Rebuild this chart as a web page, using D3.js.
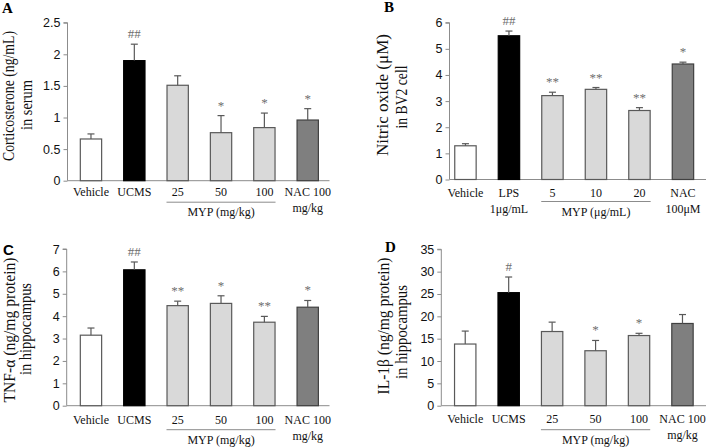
<!DOCTYPE html>
<html>
<head>
  <meta charset="utf-8">
  <title>MYP panels A-D</title>
  <script src="https://d3js.org/d3.v7.min.js"></script>
  <style>
    body { margin: 0; background: #fff; }
    svg { display: block; font-family: "Liberation Serif", "Times New Roman", serif; }
    .tick text { font-size: 12.5px; fill: #111; }
    .xlab { font-size: 12px; fill: #111; }
    .ytitle { fill: #111; }
    .mark { font-size: 13px; fill: #6e6e6e; }
  </style>
</head>
<body>
  <svg width="708" height="448"></svg>

  <script>
    // categories
    const catsA = ["Vehicle", "UCMS", "25", "50", "100", "NAC 100"];
    const catsB = ["Vehicle", "LPS", "5", "10", "20", "NAC"];
    const catsC = catsA;
    const catsD = catsA;
    const sub2A = ["", "", "", "", "", "mg/kg"];
    const sub2B = ["", "1μg/mL", "", "", "", "100μM"];

    // values (mean) and upper SEM
    const corticosterone = [0.66, 1.90, 1.51, 0.76, 0.84, 0.96];
    const corticoErr     = [0.08, 0.26, 0.15, 0.27, 0.23, 0.18];
    const nitricOxide    = [1.29, 5.50, 3.21, 3.45, 2.64, 4.42];
    const nitricErr      = [0.08, 0.18, 0.13, 0.07, 0.11, 0.07];
    const tnfAlpha       = [3.15, 6.07, 4.47, 4.57, 3.73, 4.40];
    const tnfErr         = [0.32, 0.35, 0.20, 0.34, 0.26, 0.30];
    const il1Beta        = [13.8, 25.3, 16.6, 12.3, 15.7, 18.4];
    const il1Err         = [2.9, 3.5, 2.1, 2.3, 0.5, 2.0];

    // significance marks
    const marksA = ["", "##", "", "*", "*", "*"];
    const marksB = ["", "##", "**", "**", "**", "*"];
    const marksC = ["", "##", "**", "*", "**", "*"];
    const marksD = ["", "#", "", "*", "*", ""];

    // y ticks
    const ticksA = [0, 0.5, 1, 1.5, 2, 2.5];
    const ticksB = [0, 1, 2, 3, 4, 5, 6];
    const ticksC = [0, 1, 2, 3, 4, 5, 6, 7];
    const ticksD = [0, 5, 10, 15, 20, 25, 30, 35];

    const fills   = ["#ffffff", "#000000", "#d9d9d9", "#d9d9d9", "#d9d9d9", "#7f7f7f"];
    const strokes = ["#595959", "#000000", "#595959", "#595959", "#595959", "#404040"];

    const svg = d3.select("svg");

    function drawPanel(p) {
      const g = svg.append("g");
      const x = d3.scaleBand().domain(p.cats).range([p.bandX0, p.bandX0 + 6 * p.step])
        .paddingInner(0.485).paddingOuter(0.2425);
      const y = d3.scaleLinear().domain([0, d3.max(p.ticks)]).range([p.y0, p.yTop]);
      const bw = x.bandwidth();

      // y axis
      const ax = g.append("g").attr("transform", `translate(${p.axisX},0)`)
        .call(d3.axisLeft(y).tickValues(p.ticks).tickSize(4).tickPadding(3).tickFormat(d => String(d)));
      ax.selectAll("path, line").attr("stroke", "#8c8c8c");
      ax.select(".domain").attr("d", `M-4,${y(d3.max(p.ticks))}H0V${p.y0}`);
      ax.selectAll(".tick text").attr("font-family", null).attr("font-size", null);

      // x axis baseline
      g.append("line").attr("x1", p.axisX).attr("x2", p.axisEnd)
        .attr("y1", p.y0).attr("y2", p.y0).attr("stroke", "#8c8c8c");

      // bars
      g.selectAll("rect.bar").data(p.vals).join("rect").attr("class", "bar")
        .attr("x", (d, i) => x(p.cats[i]) + 0.5)
        .attr("y", d => y(d))
        .attr("width", bw - 1)
        .attr("height", d => p.y0 - y(d))
        .attr("fill", (d, i) => fills[i])
        .attr("stroke", (d, i) => strokes[i])
        .attr("stroke-width", 1.2);

      // error bars (upper only)
      p.vals.forEach((v, i) => {
        const cx = x(p.cats[i]) + bw / 2;
        const top = y(v + p.errs[i]);
        g.append("line").attr("x1", cx).attr("x2", cx).attr("y1", y(v)).attr("y2", top)
          .attr("stroke", "#595959").attr("stroke-width", 1.2);
        g.append("line").attr("x1", cx - 3.5).attr("x2", cx + 3.5).attr("y1", top).attr("y2", top)
          .attr("stroke", "#595959").attr("stroke-width", 1.2);
        if (p.marks[i]) {
          g.append("text").attr("class", "mark").attr("x", cx).attr("y", top - 6)
            .attr("text-anchor", "middle").text(p.marks[i]);
        }
      });

      // category labels
      p.cats.forEach((c, i) => {
        const cx = x(c) + bw / 2;
        g.append("text").attr("class", "xlab").attr("x", cx).attr("y", p.y0 + p.labDy)
          .attr("text-anchor", "middle").text(c);
        if (p.sub2[i]) {
          g.append("text").attr("class", "xlab").attr("x", cx).attr("y", p.y0 + p.labDy + 16)
            .attr("text-anchor", "middle").text(p.sub2[i]);
        }
      });

      // dose group bracket
      const gx1 = x(p.cats[2]), gx2 = x(p.cats[4]) + bw;
      g.append("line").attr("x1", gx1).attr("x2", gx2)
        .attr("y1", p.y0 + p.lineDy).attr("y2", p.y0 + p.lineDy).attr("stroke", "#8c8c8c");
      g.append("text").attr("class", "xlab").attr("x", x(p.cats[3]) + bw / 2)
        .attr("y", p.y0 + p.lineDy + 14).attr("text-anchor", "middle").text(p.group);

      // y title, two lines
      g.append("text").attr("class", "ytitle").attr("font-size", p.t1size)
        .attr("transform", `translate(${p.t1x},${p.t1y}) rotate(-90)`)
        .attr("text-anchor", "middle")
        .attr("textLength", p.t1len).attr("lengthAdjust", "spacingAndGlyphs")
        .text(p.title1);
      g.append("text").attr("class", "ytitle").attr("font-size", p.t2size)
        .attr("transform", `translate(${p.t2x},${p.t2y}) rotate(-90)`)
        .attr("text-anchor", "middle")
        .attr("textLength", p.t2len).attr("lengthAdjust", "spacingAndGlyphs")
        .text(p.title2);

      // panel letter
      g.append("text").attr("x", p.lx).attr("y", p.ly)
        .attr("font-weight", "bold").attr("font-size", 15)
        .attr("font-family", p.letterFont || null).text(p.letter);
    }

    drawPanel({
      cats: catsA, sub2: sub2A, vals: corticosterone, errs: corticoErr, marks: marksA, ticks: ticksA,
      axisX: 67.5, axisEnd: 329.5, bandX0: 69.3, step: 43.35, y0: 180.7, yTop: 22.7,
      labDy: 15.5, lineDy: 21.5, group: "MYP (mg/kg)",
      title1: "Corticosterone (ng/mL)", title2: "in serum", t1size: 16, t2size: 16,
      t1len: 130, t2len: 50,
      t1x: 13.5, t1y: 96, t2x: 31.5, t2y: 105, letter: "A", lx: 2, ly: 13
    });
    drawPanel({
      cats: catsB, sub2: sub2B, vals: nitricOxide, errs: nitricErr, marks: marksB, ticks: ticksB,
      axisX: 449.5, axisEnd: 706, bandX0: 443.7, step: 43.5, y0: 179.5, yTop: 22.7,
      labDy: 17, lineDy: 22, group: "MYP (μg/mL)",
      title1: "Nitric oxide (μM)", title2: "in BV2 cell", t1size: 16.5, t2size: 16,
      t1len: 122, t2len: 63,
      t1x: 387.5, t1y: 95, t2x: 406.5, t2y: 97, letter: "B", lx: 384, ly: 12
    });
    drawPanel({
      cats: catsC, sub2: sub2A, vals: tnfAlpha, errs: tnfErr, marks: marksC, ticks: ticksC,
      axisX: 66.7, axisEnd: 329.5, bandX0: 69.3, step: 43.35, y0: 405.7, yTop: 249,
      labDy: 18, lineDy: 24, group: "MYP (mg/kg)",
      title1: "TNF-α (ng/mg protein)", title2: "in hippocampus", t1size: 16, t2size: 16,
      t1len: 145, t2len: 92,
      t1x: 14.5, t1y: 330, t2x: 30.5, t2y: 329, letter: "C", lx: 3, ly: 255,
      letterFont: "Liberation Sans, Arial, sans-serif"
    });
    drawPanel({
      cats: catsD, sub2: sub2A, vals: il1Beta, errs: il1Err, marks: marksD, ticks: ticksD,
      axisX: 441.3, axisEnd: 706, bandX0: 443.5, step: 43.45, y0: 405.7, yTop: 249.3,
      labDy: 17, lineDy: 24, group: "MYP (mg/kg)",
      title1: "IL-1β (ng/mg protein)", title2: "in hippocampus", t1size: 16, t2size: 16,
      t1len: 137, t2len: 94,
      t1x: 388.5, t1y: 326, t2x: 406.5, t2y: 332, letter: "D", lx: 385, ly: 252
    });
  </script>
</body>
</html>
